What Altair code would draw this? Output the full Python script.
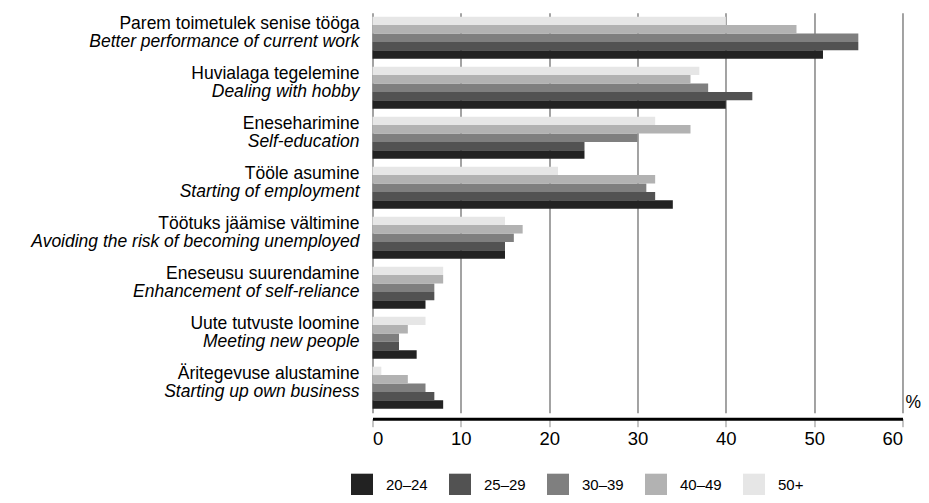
import altair as alt
import pandas as pd

categories_et = [
    "Parem toimetulek senise tööga",
    "Huvialaga tegelemine",
    "Eneseharimine",
    "Tööle asumine",
    "Töötuks jäämise vältimine",
    "Eneseusu suurendamine",
    "Uute tutvuste loomine",
    "Äritegevuse alustamine",
]
categories_en = [
    "Better performance of current work",
    "Dealing with hobby",
    "Self-education",
    "Starting of employment",
    "Avoiding the risk of becoming unemployed",
    "Enhancement of self-reliance",
    "Meeting new people",
    "Starting up own business",
]
age_groups = ["20–24", "25–29", "30–39", "40–49", "50+"]
v_20_24 = [51, 40, 24, 34, 15, 6, 5, 8]
v_25_29 = [55, 43, 24, 32, 15, 7, 3, 7]
v_30_39 = [55, 38, 30, 31, 16, 7, 3, 6]
v_40_49 = [48, 36, 36, 32, 17, 8, 4, 4]
v_50 = [40, 37, 32, 21, 15, 8, 6, 1]
colors = ["#222222", "#525252", "#7f7f7f", "#b2b2b2", "#e6e6e6"]
x_ticks = [0, 10, 20, 30, 40, 50, 60]

series = [v_20_24, v_25_29, v_30_39, v_40_49, v_50]
rows = []
for g, vals in zip(age_groups, series):
    for c, v in zip(categories_et, vals):
        rows.append({"cat": c, "group": g, "value": v})
df = pd.DataFrame(rows)
labels_df = pd.DataFrame({"cat": categories_et, "en": categories_en})

FONT = "Liberation Sans"
FS = 17.5
W, H = 530, 400

y_enc = alt.Y(
    "cat:N",
    sort=categories_et,
    scale=alt.Scale(paddingInner=0.16, paddingOuter=0.08),
    axis=None,
)

bars = alt.Chart(df).mark_bar(stroke=None).encode(
    x=alt.X(
        "value:Q",
        scale=alt.Scale(domain=[0, 60], nice=False),
        axis=alt.Axis(
            values=x_ticks,
            title=None,
            grid=True,
            gridColor="#8c8c8c",
            gridWidth=1.6,
            domainColor="#000000",
            domainWidth=3,
            tickColor="#8c8c8c",
            tickWidth=1,
            tickSize=8,
            offset=6,
            labelFont=FONT,
            labelFontSize=18.5,
            labelColor="#000000",
            labelPadding=3,
        ),
    ),
    y=y_enc,
    yOffset=alt.YOffset(
        "group:N",
        sort=["50+", "40–49", "30–39", "25–29", "20–24"],
        scale=alt.Scale(paddingInner=0, paddingOuter=0),
    ),
    color=alt.Color(
        "group:N",
        sort=age_groups,
        scale=alt.Scale(domain=age_groups, range=colors),
        legend=alt.Legend(
            title=None,
            orient="none",
            legendX=-21.5,
            legendY=461,
            direction="horizontal",
            columns=5,
            symbolType="square",
            symbolSize=484,
            symbolStrokeWidth=0,
            labelFont=FONT,
            labelFontSize=15,
            labelColor="#000000",
            labelOffset=13,
            columnPadding=21,
        ),
    ),
)

line1 = alt.Chart(labels_df).mark_text(
    align="right", baseline="alphabetic", dy=-8.5, font=FONT, fontSize=FS, color="#000000"
).encode(y=y_enc, x=alt.value(-13), text="cat:N")

line2 = alt.Chart(labels_df).mark_text(
    align="right", baseline="alphabetic", dy=9.5, font=FONT, fontSize=FS,
    fontStyle="italic", color="#000000"
).encode(y=y_enc, x=alt.value(-13), text="en:N")

pct = alt.Chart(pd.DataFrame({"t": ["%"]})).mark_text(
    align="left", baseline="alphabetic", font=FONT, fontSize=FS, color="#000000"
).encode(x=alt.value(W + 3), y=alt.value(395), text="t:N")

chart = alt.layer(bars, line1, line2, pct).properties(
    width=W,
    height=H,
    autosize=alt.AutoSizeParams(type="none"),
    padding={"left": 364.5, "top": 4.7, "right": 18.5, "bottom": 82},
).configure_view(stroke=None)

chart.save("out.html", embed_options={"renderer": "svg", "actions": False})
